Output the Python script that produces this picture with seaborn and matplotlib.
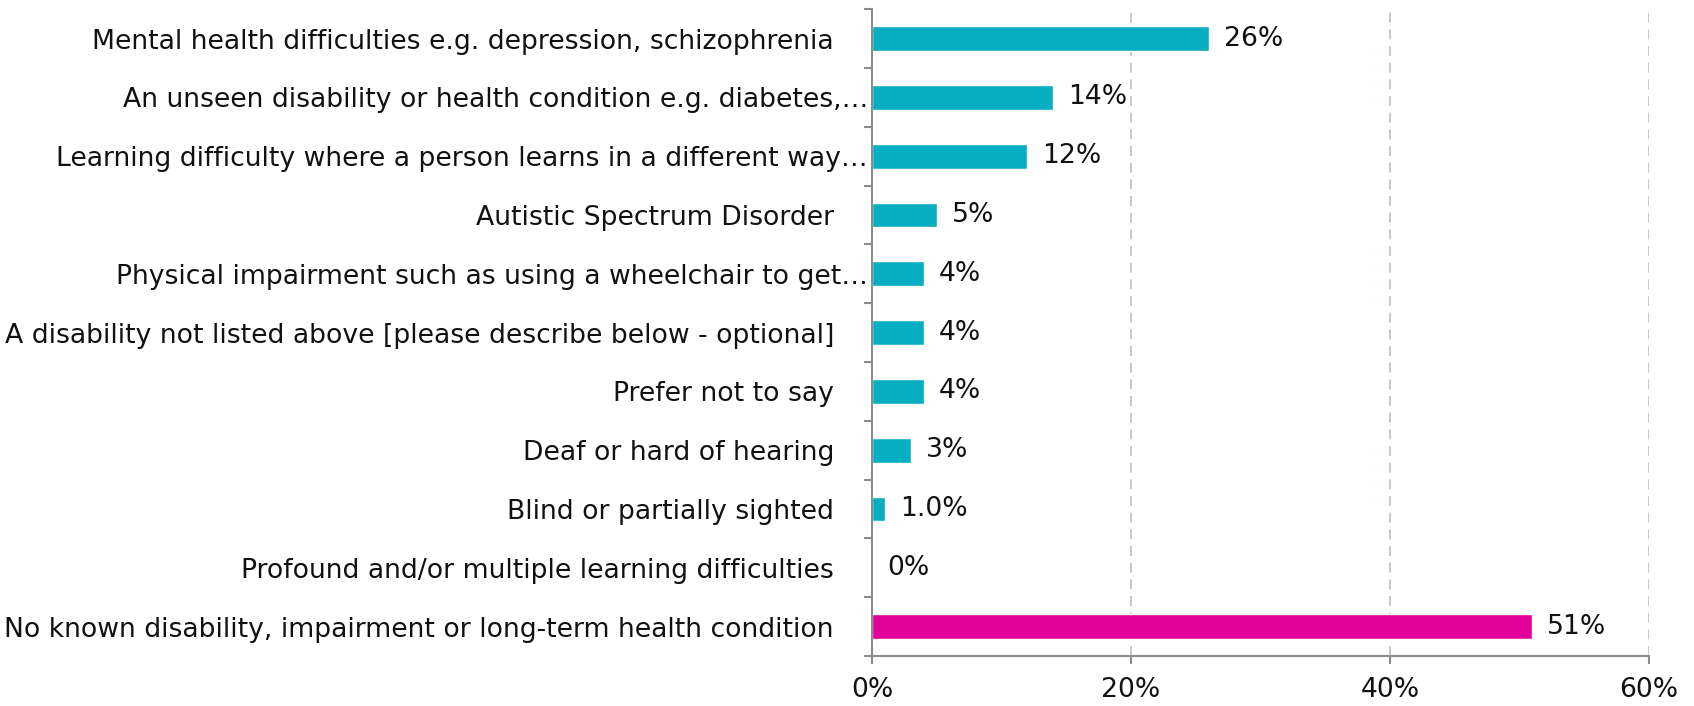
import matplotlib
matplotlib.use('Agg')
import matplotlib.pyplot as plt
import matplotlib.ticker as mticker
import seaborn as sns

categories = [
    'Mental health difficulties e.g. depression, schizophrenia    ',
    'An unseen disability or health condition e.g. diabetes,\u2026',
    'Learning difficulty where a person learns in a different way\u2026',
    'Autistic Spectrum Disorder    ',
    'Physical impairment such as using a wheelchair to get\u2026',
    'A disability not listed above [please describe below - optional]    ',
    'Prefer not to say    ',
    'Deaf or hard of hearing    ',
    'Blind or partially sighted    ',
    'Profound and/or multiple learning difficulties    ',
    'No known disability, impairment or long-term health condition    ',
]
values = [26, 14, 12, 5, 4, 4, 4, 3, 1.0, 0, 51]
value_labels = ['26%', '14%', '12%', '5%', '4%', '4%', '4%', '3%', '1.0%', '0%', '51%']

TEAL = '#07AEC2'
MAGENTA = '#E2009A'
colors = [TEAL] * 10 + [MAGENTA]

sns.set_theme(style='white')
plt.rcParams['font.family'] = ['DejaVu Sans']

FS = 19.2

fig = plt.figure(figsize=(16.94, 7.06), dpi=100)
ax = fig.add_axes([0.5148, 0.0708, 0.4586, 0.9162])

sns.barplot(x=values, y=categories, hue=categories, palette=colors,
            legend=False, width=0.42, orient='h', ax=ax, saturation=1)

ax.set_xlim(0, 60)
ax.set_ylim(10.5, -0.5)
ax.xaxis.set_major_locator(mticker.MultipleLocator(20))
ax.xaxis.set_major_formatter(mticker.FuncFormatter(lambda x, _: f'{int(x)}%'))

# data labels to the right of each bar
for i, (v, lab) in enumerate(zip(values, value_labels)):
    ax.text(v + 1.15, i, lab, va='center', ha='left', fontsize=FS, color='#111111')

for x in [20, 40, 60]:
    ax.axvline(x, color='#B5C3C4', linestyle=(0, (6, 4)), linewidth=1.2, zorder=0)

for s in ['top', 'right']:
    ax.spines[s].set_visible(False)
for s in ['left', 'bottom']:
    ax.spines[s].set_color('#8C8C8C')
    ax.spines[s].set_linewidth(1.5)

# Excel-style ticks between categories
ax.set_yticks([i - 0.5 for i in range(12)], minor=True)
ax.tick_params(axis='y', which='major', left=False, length=0, pad=3,
               labelsize=FS, labelcolor='#111111')
ax.tick_params(axis='y', which='minor', left=True, length=6, width=1.5,
               color='#8C8C8C', direction='out')
ax.tick_params(axis='x', which='major', bottom=True, length=6, width=1.5,
               color='#8C8C8C', direction='out', pad=9, labelsize=FS, labelcolor='#111111')
ax.set_xlabel('')
ax.set_ylabel('')

plt.savefig('out.png', dpi=100)
plt.close()
